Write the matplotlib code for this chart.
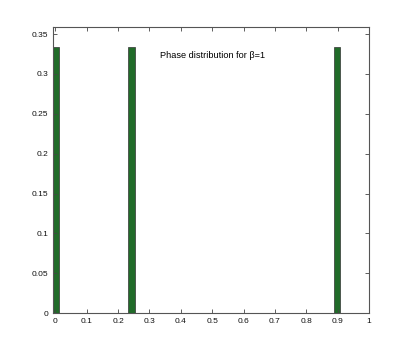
import matplotlib
matplotlib.use("Agg")
import matplotlib.pyplot as plt

# phase values and their probabilities
phases = [0.0, 0.243, 0.898]
probs = [1 / 3, 1 / 3, 1 / 3]
xticks = [0, 0.1, 0.2, 0.3, 0.4, 0.5, 0.6, 0.7, 0.8, 0.9, 1]
yticks = [0, 0.05, 0.1, 0.15, 0.2, 0.25, 0.3, 0.35]

plt.rcParams['font.family'] = ['Liberation Sans', 'DejaVu Sans']

fig = plt.figure(figsize=(4.07, 3.53), dpi=100)
ax = fig.add_axes([0.13, 0.113, 0.7766, 0.8105])

ax.bar(phases, probs, width=0.02, color='#216b29', edgecolor='#333333', linewidth=0.5)

ax.set_xlim(-0.008, 1.0)
ax.set_ylim(0, 0.3588)
ax.set_xticks(xticks)
ax.set_xticklabels([f"{t:g}" for t in xticks])
ax.set_yticks(yticks)
ax.set_yticklabels([f"{t:g}" for t in yticks])

ax.tick_params(direction='in', length=3, width=0.6, labelsize=6,
               top=True, right=True, colors='#444444', labelcolor='#111111')
for s in ax.spines.values():
    s.set_color('#555555')
    s.set_linewidth(0.8)

ax.text(0.333, 0.323, "Phase distribution for \u03b2=1", fontsize=6.6, va='center')

fig.savefig("out.png", dpi=100)
